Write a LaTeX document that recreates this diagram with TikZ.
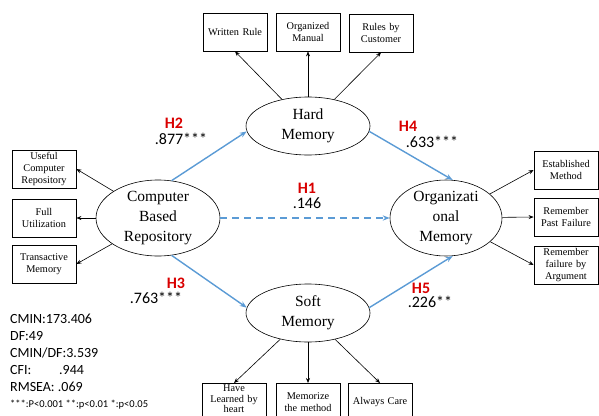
\documentclass[tikz,border=0pt]{standalone}
\usepackage{fontspec}
\setmainfont{Liberation Serif}
\newfontfamily\labelfont{Carlito}
\usetikzlibrary{arrows.meta,shapes.geometric}

\begin{document}
\begin{tikzpicture}[x=1pt,y=-1pt,
  latent/.style={draw,semithick,ellipse,font=\fontsize{15.5}{20}\selectfont,align=center,inner sep=0pt},
  indicator/.style={draw,thick,minimum width=64pt,minimum height=38pt,inner sep=1pt,
    font=\fontsize{10.3}{12}\selectfont,align=center,text width=62pt},
  load/.style={-{Stealth[length=5pt,width=4pt]},semithick},
  struct/.style={-{Stealth[length=7pt]},line width=1.4pt,draw=pathblue},
  hyp/.style={font=\labelfont\bfseries\fontsize{16}{16}\selectfont,text=red!85!black,inner sep=0pt},
  coef/.style={font=\labelfont\fontsize{16}{16}\selectfont,inner sep=0pt},
  fit/.style={font=\labelfont\fontsize{14}{14}\selectfont,anchor=west,inner sep=0pt}]
\definecolor{pathblue}{HTML}{5B9BD5}
\useasboundingbox (0,0) rectangle (599,415);
% latent constructs
\node[latent,minimum width=124pt,minimum height=58pt] (hard) at (308,126) {Hard\\Memory};
\node[latent,minimum width=124pt,minimum height=58pt] (soft) at (308,313) {Soft\\Memory};
\node[latent,minimum width=124pt,minimum height=76pt] (cbr) at (158,218) {Computer\\Based\\Repository};
\node[latent,minimum width=112pt,minimum height=76pt] (org) at (446,218) {Organizati\\onal\\Memory};
% indicators of hard memory
\node[indicator] (wr) at (235,32) {Written Rule};
\node[indicator] (om) at (308,32) {Organized\\Manual};
\node[indicator] (rc) at (381,33) {Rules by\\Customer};
% indicators of soft memory
\node[indicator,anchor=north,font=\fontsize{10.3}{10.5}\selectfont] (hl) at (234,383) {Have\\Learned by\\heart\rule[-7pt]{0pt}{0pt}};
\node[indicator,anchor=north] (mm) at (308,383) {Memorize\\the method};
\node[indicator,anchor=north] (ac) at (380,383) {Always Care};
% indicators of computer based repository
\node[indicator] (ucr) at (44,169) {Useful\\Computer\\Repository};
\node[indicator] (fu) at (44,218) {Full\\Utilization};
\node[indicator] (tm) at (44,264) {Transactive\\Memory};
% indicators of organizational memory
\node[indicator] (est) at (566,170) {Established\\Method};
\node[indicator] (rpf) at (566,217) {Remember\\Past Failure};
\node[indicator] (rfa) at (566,265) {Remember\\failure by\\Argument};
% loadings
\foreach \b in {wr,om,rc} \draw[load] (hard) -- (\b.south);
\foreach \b in {hl,mm,ac} \draw[load] (soft) -- (\b.north);
\foreach \b in {ucr,fu,tm} \draw[load] (cbr) -- (\b.east);
\foreach \b in {est,rpf,rfa} \draw[load] (org) -- (\b.west);
% structural paths
\draw[struct] (cbr.70) -- (hard.185);
\draw[struct] (hard.355) -- (org.80);
\draw[struct] (cbr.290) -- (soft.175);
\draw[struct] (soft.5) -- (org.280);
\draw[struct,dashed,dash pattern=on 7pt off 5pt] (cbr.east) -- (org.west);
% hypothesis labels
\node[hyp] (h2) at (174,123) {H2};
\node[coef] (c2) at (181,139) {.877***};
\node[hyp] (h4) at (408,126) {H4};
\node[coef] (c4) at (432,142) {.633***};
\node[hyp] (h1) at (307,188) {H1};
\node[coef] (c1) at (307,203) {.146};
\node[hyp] (h3) at (176,283) {H3};
\node[coef] (c3) at (156,298) {.763***};
\node[hyp] (h5) at (421,288) {H5};
\node[coef] (c5) at (430,302) {.226**};
% model fit
\node[fit] (f1) at (10,319) {CMIN:173.406};
\node[fit] (f2) at (10,336) {DF:49};
\node[fit] (f3) at (10,353) {CMIN/DF:3.539};
\node[fit] (f4) at (10,370) {\makebox[49pt][l]{CFI:}.944};
\node[fit] (f5) at (10,387) {RMSEA: .069};
\node[fit,font=\labelfont\fontsize{10.5}{11}\selectfont] (f6) at (10,405) {***:P<0.001 **:p<0.01 *:p<0.05};
\end{tikzpicture}
\end{document}
